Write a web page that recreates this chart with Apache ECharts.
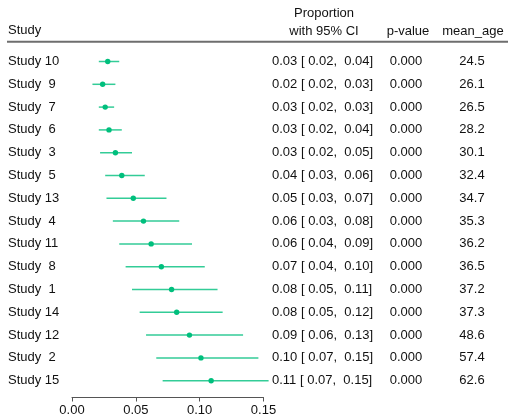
<!DOCTYPE html>
<html>
<head>
<meta charset="utf-8">
<script src="https://cdn.jsdelivr.net/npm/echarts@6/dist/echarts.min.js"></script>
<style>
  html, body { margin: 0; padding: 0; background: #fff; }
  #chart { width: 508px; height: 415px; }
</style>
</head>
<body>
<div id="chart"></div>
<script>
// ------------------------------------------------------- //
// Data
// ------------------------------------------------------ //
var studies  = ['Study 10', 'Study  9', 'Study  7', 'Study  6', 'Study  3', 'Study  5', 'Study 13', 'Study  4',
                'Study 11', 'Study  8', 'Study  1', 'Study 14', 'Study 12', 'Study  2', 'Study 15'];
var estimate = [0.028, 0.024, 0.026, 0.029, 0.034, 0.039, 0.048, 0.056, 0.062, 0.070, 0.078, 0.082, 0.092, 0.101, 0.109];
var ciLow    = [0.021, 0.016, 0.021, 0.021, 0.022, 0.026, 0.027, 0.032, 0.037, 0.042, 0.047, 0.053, 0.058, 0.066, 0.071];
var ciHigh   = [0.037, 0.034, 0.033, 0.039, 0.047, 0.057, 0.074, 0.084, 0.094, 0.104, 0.114, 0.118, 0.134, 0.146, 0.154];
var pValues  = [0, 0, 0, 0, 0, 0, 0, 0, 0, 0, 0, 0, 0, 0, 0];
var meanAge  = [24.5, 26.1, 26.5, 28.2, 30.1, 32.4, 34.7, 35.3, 36.2, 36.5, 37.2, 37.3, 48.6, 57.4, 62.6];
var xTicks   = [0, 0.05, 0.10, 0.15];

var FONT = '13px "Liberation Sans", Arial, sans-serif';
var GREEN = '#00bf7d';

var rows = studies.map(function (s, i) {
    return [estimate[i], ciLow[i], ciHigh[i], i];
});

function renderRow(params, api) {
    var i = api.value(3);
    var pe = api.coord([api.value(0), i]);
    var pl = api.coord([api.value(1), i]);
    var ph = api.coord([api.value(2), i]);
    var y = pe[1];
    var ciText = api.value(0).toFixed(2) + ' [ ' + api.value(1).toFixed(2) + ',  ' + api.value(2).toFixed(2) + ']';
    return {
        type: 'group',
        children: [
            {type: 'line', shape: {x1: pl[0], y1: y, x2: ph[0], y2: y},
             style: {stroke: GREEN, lineWidth: 1.5, opacity: 0.8}},
            {type: 'circle', shape: {cx: pe[0], cy: y, r: 2.7}, style: {fill: GREEN}},
            {type: 'text', style: {text: ciText, x: 272, y: y, font: FONT, fill: '#111',
                                   textAlign: 'left', textVerticalAlign: 'middle'}},
            {type: 'text', style: {text: pValues[i].toFixed(3), x: 406, y: y, font: FONT, fill: '#111',
                                   textAlign: 'center', textVerticalAlign: 'middle'}},
            {type: 'text', style: {text: meanAge[i].toFixed(1), x: 472, y: y, font: FONT, fill: '#111',
                                   textAlign: 'center', textVerticalAlign: 'middle'}}
        ]
    };
}

var chart = echarts.init(document.getElementById('chart'), null, {renderer: 'canvas'});
var option = {
    animation: false,
    textStyle: {fontFamily: '"Liberation Sans", Arial, sans-serif'},
    grid: {left: 72, right: 244.5, top: 50.1, height: 342, outerBoundsMode: 'none', containLabel: false},
    xAxis: {
        type: 'value',
        min: xTicks[0],
        max: xTicks[xTicks.length - 1],
        interval: 0.05,
        offset: 5.4,
        axisLine: {show: true, lineStyle: {color: '#555', width: 1}},
        axisTick: {show: true, length: 4, lineStyle: {color: '#555'}},
        axisLabel: {fontSize: 13, color: '#111', margin: 6,
                    formatter: function (v) { return v.toFixed(2); }},
        splitLine: {show: false}
    },
    yAxis: {
        type: 'category',
        data: studies,
        inverse: true,
        axisLine: {show: false},
        axisTick: {show: false},
        splitLine: {show: false},
        axisLabel: {align: 'left', margin: 64, fontSize: 13, color: '#111'}
    },
    graphic: [
        {type: 'text', left: 8, top: 24, style: {text: 'Study', font: FONT, fill: '#111'}},
        {type: 'text', style: {text: 'Proportion', x: 324, y: 13, font: FONT, fill: '#111',
                               textAlign: 'center', textVerticalAlign: 'middle'}},
        {type: 'text', style: {text: 'with 95% CI', x: 324, y: 31.5, font: FONT, fill: '#111',
                               textAlign: 'center', textVerticalAlign: 'middle'}},
        {type: 'text', style: {text: 'p-value', x: 408, y: 31.5, font: FONT, fill: '#111',
                               textAlign: 'center', textVerticalAlign: 'middle'}},
        {type: 'text', style: {text: 'mean_age', x: 473, y: 31.5, font: FONT, fill: '#111',
                               textAlign: 'center', textVerticalAlign: 'middle'}},
        {type: 'line', shape: {x1: 7, y1: 41.7, x2: 508, y2: 41.7},
         style: {stroke: '#6e6e6e', lineWidth: 2}}
    ],
    series: [{
        type: 'custom',
        clip: false,
        renderItem: renderRow,
        encode: {x: [0, 1, 2], y: 3},
        data: rows
    }]
};
chart.setOption(option);
</script>
</body>
</html>
